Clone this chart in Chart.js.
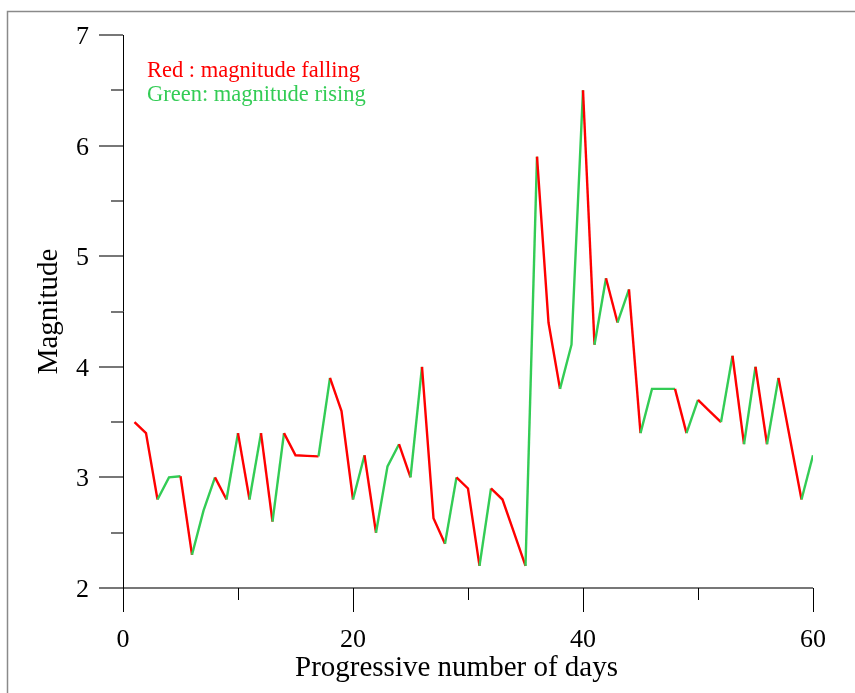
<!DOCTYPE html>
<html><head><meta charset="utf-8">
<script src="https://cdn.jsdelivr.net/npm/chart.js@4.4.1/dist/chart.umd.min.js"></script>
<style>html,body{margin:0;padding:0;background:#fff;overflow:hidden}#wrap{width:855px;height:693px;position:relative}</style>
</head><body><div id="wrap"><canvas id="c" width="855" height="693"></canvas></div>
<script>
const days = [1,2,3,4,5,6,7,8,9,10,11,12,13,14,15,16,17,18,19,20,21,22,23,24,25,26,27,28,29,30,
  31,32,33,34,35,36,37,38,39,40,41,42,43,44,45,46,47,48,49,50,51,52,53,54,55,56,57,58,59,60];
const magnitude = [3.5,3.4,2.8,3.0,3.01,2.3,2.7,3.0,2.8,3.4,2.8,3.4,2.6,3.4,3.2,3.195,3.19,3.9,3.6,2.8,
  3.2,2.5,3.1,3.3,3.0,4.0,2.63,2.4,3.0,2.9,2.2,2.9,2.8,2.5,2.2,5.9,4.4,3.8,4.2,6.5,
  4.2,4.8,4.4,4.7,3.4,3.8,3.8,3.8,3.4,3.7,3.6,3.5,4.1,3.3,4.0,3.3,3.9,3.35,2.8,3.2];
const xTicks = [0,10,20,30,40,50,60];
const xLabelTicks = [0,20,40,60];
const yTicks = [2,2.5,3,3.5,4,4.5,5,5.5,6,6.5,7];
const yLabelTicks = [2,3,4,5,6,7];
const legendLines = ["Red : magnitude falling", "Green: magnitude rising"];
const xTitle = "Progressive number of days";
const yTitle = "Magnitude";
const RED = "#ff0000", GREEN = "#33cc55";
const SERIF = '"Liberation Serif","Times New Roman",serif';

const decor = {
  id: 'decor',
  afterDraw(chart) {
    const ctx = chart.ctx, xs = chart.scales.x, ys = chart.scales.y;
    const x0 = xs.getPixelForValue(0), yb = ys.getPixelForValue(2), yt = ys.getPixelForValue(7);
    ctx.save();
    ctx.strokeStyle = '#8a8a8a'; ctx.lineWidth = 1.5;
    ctx.strokeRect(7.5, 11.5, 900, 800);
    ctx.strokeStyle = '#777'; ctx.lineWidth = 2;
    yTicks.forEach(v => {
      const y = Math.round(ys.getPixelForValue(v));
      const len = yLabelTicks.includes(v) ? 24 : 12;
      ctx.beginPath(); ctx.moveTo(x0 - len, y); ctx.lineTo(x0, y); ctx.stroke();
    });
    ctx.beginPath(); ctx.moveTo(x0, Math.round(yb)); ctx.lineTo(xs.getPixelForValue(60), Math.round(yb)); ctx.stroke();
    ctx.strokeStyle = '#000'; ctx.lineWidth = 1;
    const ax = Math.round(x0) + 0.5;
    ctx.beginPath(); ctx.moveTo(ax, yt); ctx.lineTo(ax, yb); ctx.stroke();
    xTicks.forEach(v => {
      const x = Math.round(xs.getPixelForValue(v)) + 0.5;
      const len = xLabelTicks.includes(v) ? 24 : 12;
      ctx.beginPath(); ctx.moveTo(x, yb); ctx.lineTo(x, yb + len); ctx.stroke();
    });
    ctx.fillStyle = '#000';
    ctx.font = '26px ' + SERIF;
    ctx.textAlign = 'center'; ctx.textBaseline = 'alphabetic';
    xLabelTicks.forEach(v => ctx.fillText(String(v), xs.getPixelForValue(v), 647));
    ctx.textAlign = 'right';
    yLabelTicks.forEach(v => ctx.fillText(String(v), 89, ys.getPixelForValue(v) + 9));
    ctx.font = '29px ' + SERIF;
    ctx.textAlign = 'center';
    ctx.fillText(xTitle, 456.5, 676);
    ctx.save();
    ctx.translate(57, 311.5); ctx.rotate(-Math.PI / 2);
    ctx.fillText(yTitle, 0, 0);
    ctx.restore();
    ctx.font = '22.5px ' + SERIF; ctx.textAlign = 'left';
    ctx.fillStyle = RED; ctx.fillText(legendLines[0], 147, 77);
    ctx.fillStyle = GREEN; ctx.fillText(legendLines[1], 147, 101);
    ctx.restore();
  }
};

new Chart(document.getElementById('c'), {
  type: 'line',
  data: {
    datasets: [{
      data: days.map((d, i) => ({ x: d, y: magnitude[i] })),
      borderWidth: 2.4,
      pointRadius: 0,
      tension: 0,
      borderColor: GREEN,
      segment: { borderColor: c => c.p1.parsed.y < c.p0.parsed.y ? RED : GREEN }
    }]
  },
  options: {
    responsive: false,
    animation: false,
    devicePixelRatio: 1,
    layout: { padding: { top: 35, right: 42, left: 0, bottom: 0 } },
    plugins: { legend: { display: false }, tooltip: { enabled: false } },
    scales: {
      x: {
        type: 'linear', min: 0, max: 60,
        grid: { display: false }, border: { display: false },
        ticks: { display: false, stepSize: 10 },
        afterFit: s => { s.height = 105; }
      },
      y: {
        min: 2, max: 7,
        grid: { display: false }, border: { display: false },
        ticks: { display: false, stepSize: 0.5 },
        afterFit: s => { s.width = 123; }
      }
    }
  },
  plugins: [decor]
});
</script>
</body></html>
